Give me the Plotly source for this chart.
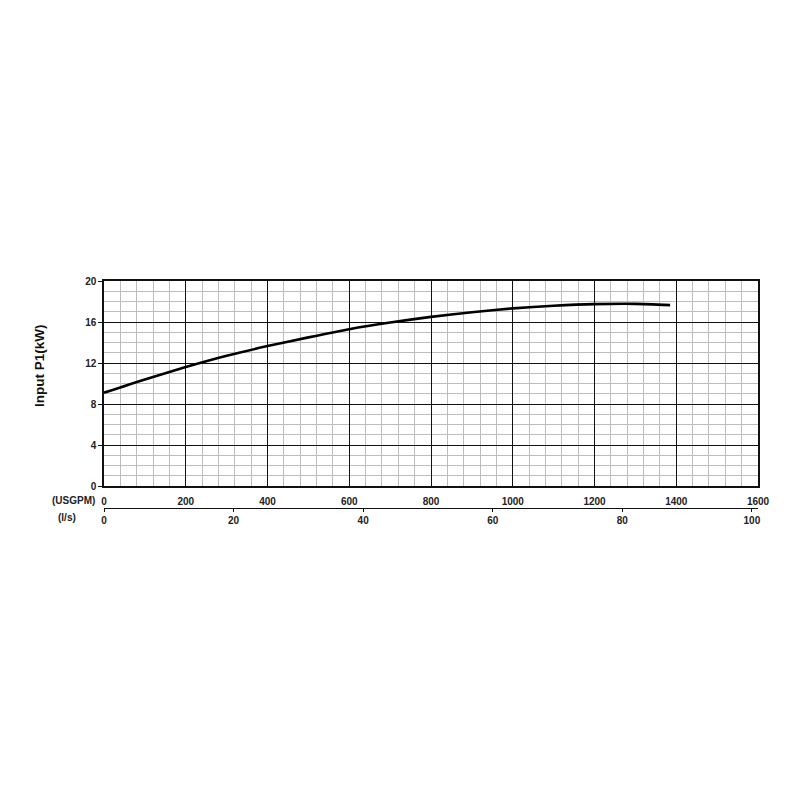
"""Pump input power curve: Input P1 (kW) vs flow (USGPM / l/s)."""

import plotly.graph_objects as go

# ── Data ──────────────────────────────────────────────────────────────
flow_usgpm = [0, 100, 200, 300, 400, 500, 600, 700, 800, 900, 1000, 1100, 1200, 1300, 1385]
power_kw = [9.1, 10.4, 11.6, 12.7, 13.65, 14.5, 15.3, 15.95, 16.5, 16.95, 17.33, 17.58, 17.74, 17.77, 17.65]

usgpm_ticks = [0, 200, 400, 600, 800, 1000, 1200, 1400, 1600]
ls_ticks = [0, 20, 40, 60, 80, 100]
kw_ticks = [0, 4, 8, 12, 16, 20]

USGPM_PER_LS = 15.85
FONT = "Liberation Sans"
Y_DOMAIN_LOW = 22 / 227

fig = go.Figure()

fig.add_trace(go.Scatter(
    x=flow_usgpm, y=power_kw, mode="lines",
    line=dict(color="black", width=2.6, shape="spline", smoothing=0.6),
    showlegend=False, hoverinfo="skip",
))

# invisible trace so the l/s axis exists
fig.add_trace(go.Scatter(
    x=[0, 100], y=[None, None], xaxis="x2", mode="lines",
    showlegend=False, hoverinfo="skip",
))

tick_font = dict(family=FONT, size=10, color="#222", weight="bold")

fig.update_layout(
    width=800, height=800,
    paper_bgcolor="white", plot_bgcolor="white",
    margin=dict(l=96, r=50, t=273, b=300),
    xaxis=dict(
        range=[0, 1600], tickvals=usgpm_ticks, anchor="y",
        showgrid=True, gridcolor="#111", gridwidth=1.2,
        minor=dict(dtick=40, showgrid=True, gridcolor="#bdbdbd", gridwidth=1.2),
        showline=True, linecolor="#111", linewidth=1.5, mirror=True,
        ticks="", ticklabelstandoff=5, tickfont=tick_font, zeroline=False,
    ),
    yaxis=dict(
        range=[0, 20], tickvals=kw_ticks, domain=[Y_DOMAIN_LOW, 1],
        showgrid=True, gridcolor="#111", gridwidth=1.2,
        minor=dict(dtick=1, showgrid=True, gridcolor="#bdbdbd", gridwidth=1.2),
        showline=True, linecolor="#111", linewidth=1.5, mirror=True,
        ticks="outside", ticklen=4, tickcolor="#111", tickfont=tick_font,
        zeroline=False,
    ),
    xaxis2=dict(
        range=[0, 1600 / USGPM_PER_LS], tickvals=ls_ticks,
        overlaying="x", anchor="free", position=0, side="bottom",
        showgrid=False, zeroline=False,
        showline=True, linecolor="#111", linewidth=1,
        ticks="outside", ticklen=3, tickcolor="#111", tickfont=tick_font,
    ),
)

# y title sits above the plot centre in the original, so placed by hand
fig.add_annotation(text="Input P1(kW)", xref="paper", yref="paper", x=-0.098, y=0.63,
                   textangle=-90, xanchor="center", yanchor="middle", showarrow=False,
                   font=dict(family=FONT, size=13.5, color="#111", weight="bold"))
fig.add_annotation(text="(USGPM)", xref="paper", yref="paper", x=-0.011, y=0.035,
                   xanchor="right", yanchor="middle", showarrow=False,
                   font=dict(family=FONT, size=10, color="#222", weight="bold"))
fig.add_annotation(text="(l/s)", xref="paper", yref="paper", x=-0.04, y=-0.044,
                   xanchor="right", yanchor="middle", showarrow=False,
                   font=dict(family=FONT, size=10, color="#222", weight="bold"))

fig.write_html("out.html")
